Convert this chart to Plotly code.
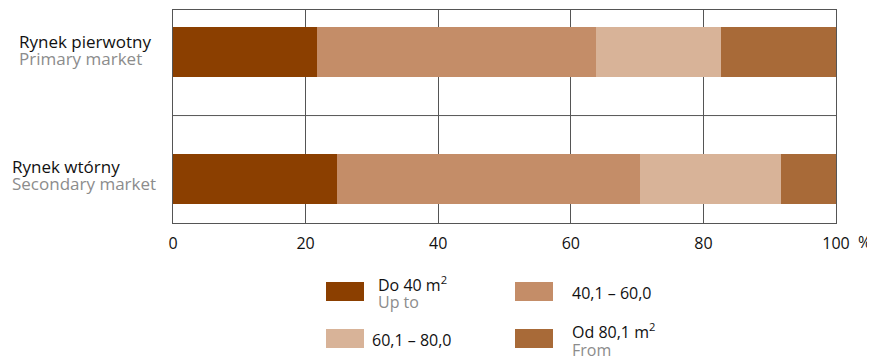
import plotly.graph_objects as go

# ---------------- data ----------------
categories_pl = ["Rynek pierwotny", "Rynek wtórny"]
categories_en = ["Primary market", "Secondary market"]
category_pos = [0, 1]

series_names = ["Do 40 m<sup>2</sup>", "40,1 – 60,0", "60,1 – 80,0", "Od 80,1 m<sup>2</sup>"]
series_sub = ["Up to", "", "", "From"]
series_colors = ["#8B3F00", "#C48D68", "#D8B398", "#A86A38"]

do_40 = [21.7, 24.8]
from_40_to_60 = [42.1, 45.6]
from_60_to_80 = [18.8, 21.3]
od_80 = [17.4, 8.3]
series_values = [do_40, from_40_to_60, from_60_to_80, od_80]

x_tickvals = [0, 20, 40, 60, 80, 100]
x_ticktext = ["0", "20", "40", "60", "80", "100"]

# ---------------- layout constants ----------------
OFF = 8  # default page body margin
WIN_W, WIN_H = 875, 356
W, H = WIN_W - OFF, WIN_H - OFF
PL, PR, PT, PB = 173, 836, 10, 223  # plot area in window pixels
ML, MR, MT, MB = PL - OFF, WIN_W - PR, PT - OFF, WIN_H - PB
PW, PH = PR - PL, PB - PT
FONT = "Open Sans"
GRID = "#555555"
GREY_TXT = "#8c8c8c"
BLACK_TXT = "#111111"
FS = 16
FS_CAT = 17


def px_x(px):
    return (px - PL) / PW


def px_y(py):
    return (PB - py) / PH


def base_to_mid(baseline, size=FS):
    return baseline - 0.35 * size


fig = go.Figure()
for name, vals, col in zip(series_names, series_values, series_colors):
    fig.add_trace(go.Bar(
        x=vals, y=category_pos, orientation="h", name=name,
        marker=dict(color=col, line=dict(width=0)), width=0.394,
        showlegend=False,
    ))

shapes = []
annotations = []


def add_text(text, xpx, baseline, color=BLACK_TXT, size=FS):
    annotations.append(dict(
        xref="paper", yref="paper", x=px_x(xpx), y=px_y(base_to_mid(baseline, size)),
        xanchor="left", yanchor="middle", align="left", showarrow=False,
        text=text, font=dict(family=FONT, size=size, color=color),
    ))


# category divider
shapes.append(dict(type="line", xref="paper", yref="y", x0=0, x1=1,
                   y0=0.5, y1=0.5, line=dict(color=GRID, width=1)))

# category labels (two lines each, left aligned)
label_x = [17, 10]
label_base = [(47, 64), (172, 189)]
for pl, en, lx, (b1, b2) in zip(categories_pl, categories_en, label_x, label_base):
    add_text(pl, lx, b1, size=FS_CAT)
    add_text(en, lx, b2, color=GREY_TXT, size=FS_CAT)

# percent sign after the 100 tick
add_text("%", 856, 248)

# custom legend (2 x 2)
sw_x = [326, 515, 326, 515]
sw_y = [282, 282, 329, 329]
txt_x = [376, 570, 370, 570]
txt_base = [(290, 308), (299, None), (346, None), (337, 356)]
for i, (name, sub, col) in enumerate(zip(series_names, series_sub, series_colors)):
    shapes.append(dict(type="rect", xref="paper", yref="paper",
                       x0=px_x(sw_x[i]), x1=px_x(sw_x[i] + 38),
                       y0=px_y(sw_y[i]), y1=px_y(sw_y[i] + 19),
                       fillcolor=col, line=dict(width=0)))
    b1, b2 = txt_base[i]
    add_text(name, txt_x[i], b1)
    if sub:
        add_text(sub, txt_x[i], b2, color=GREY_TXT)

fig.update_layout(
    width=W, height=H,
    margin=dict(l=ML, r=MR, t=MT, b=MB, autoexpand=False),
    paper_bgcolor="white", plot_bgcolor="white",
    barmode="stack", bargap=0,
    showlegend=False,
    font=dict(family=FONT, size=FS, color=BLACK_TXT),
    shapes=shapes, annotations=annotations,
    xaxis=dict(range=[0, 100], tickvals=x_tickvals, ticktext=x_ticktext,
               showgrid=True, gridcolor=GRID, gridwidth=1, zeroline=False,
               showline=True, linecolor=GRID, linewidth=1, mirror=True,
               ticks="", ticklabelstandoff=6,
               tickfont=dict(family=FONT, size=FS, color=BLACK_TXT)),
    yaxis=dict(range=[1.346, -0.331], showticklabels=False, showgrid=False,
               zeroline=False, showline=True, linecolor=GRID, linewidth=1,
               mirror=True, ticks=""),
)

fig.write_html("out.html")
